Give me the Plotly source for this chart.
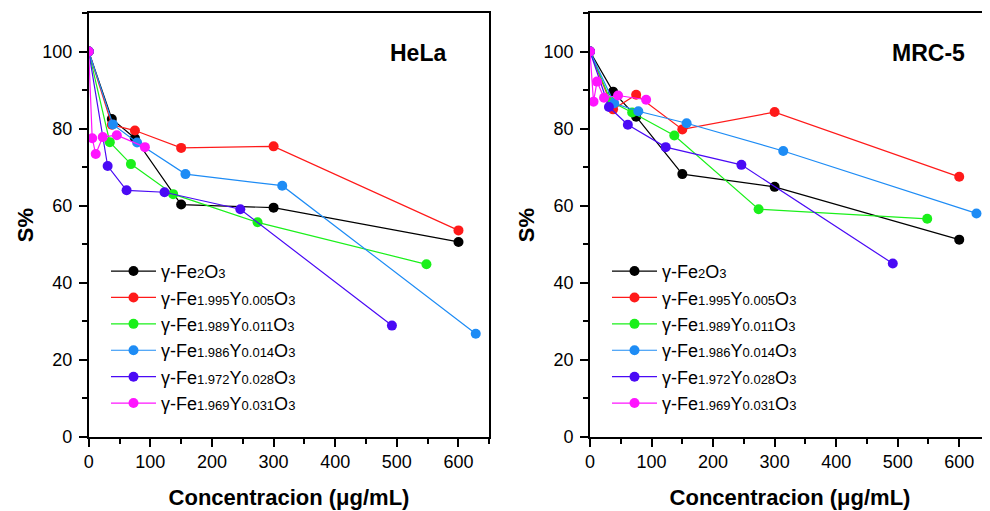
import plotly.graph_objects as go

# ---------------- data ----------------
sub_parts = [("2", None, None), ("1.995", "0.005", "3"), ("1.989", "0.011", "3"),
             ("1.986", "0.014", "3"), ("1.972", "0.028", "3"), ("1.969", "0.031", "3")]
colors = ["#000000", "#FF1A1A", "#1AF01A", "#1E8CF5", "#4A0AF5", "#FF14FF"]

# concentrations (ug/mL) per sample
conc_fe2o3 = [0, 37.5, 75, 150, 300, 600]
conc_y005 = [0, 37.5, 75, 150, 300, 600]
conc_y011 = [0, 34.25, 68.5, 137, 274, 548]
conc_y014 = [0, 39.25, 78.5, 157, 314, 628]
conc_y028 = [0, 30.75, 61.5, 123, 246, 492]
conc_y031 = [0, 5.7, 11.4, 22.8, 45.6, 91.2]

# HeLa survival (%)
hela_fe2o3 = [100, 82.5, 77.5, 60.3, 59.5, 50.6]
hela_y005 = [100, 81.0, 79.5, 75.0, 75.4, 53.6]
hela_y011 = [100, 76.5, 70.8, 63.0, 55.7, 44.8]
hela_y014 = [100, 81.1, 76.4, 68.2, 65.2, 26.8]
hela_y028 = [100, 70.3, 64.0, 63.5, 59.1, 28.9]
hela_y031 = [100, 77.5, 73.4, 77.8, 78.3, 75.2]

# MRC-5 survival (%)
mrc_fe2o3 = [100, 89.6, 83.1, 68.2, 64.9, 51.2]
mrc_y005 = [100, 85.0, 88.8, 79.8, 84.3, 67.5]
mrc_y011 = [100, 87.0, 84.2, 78.2, 59.1, 56.6]
mrc_y014 = [100, 86.6, 84.5, 81.4, 74.2, 58.0]
mrc_y028 = [100, 85.6, 81.0, 75.2, 70.6, 45.0]
mrc_y031 = [100, 87.0, 92.2, 88.0, 88.6, 87.5]

concs = [conc_fe2o3, conc_y005, conc_y011, conc_y014, conc_y028, conc_y031]
hela = [hela_fe2o3, hela_y005, hela_y011, hela_y014, hela_y028, hela_y031]
mrc = [mrc_fe2o3, mrc_y005, mrc_y011, mrc_y014, mrc_y028, mrc_y031]

panel_labels = ["HeLa", "MRC-5"]
x_ticks = [0, 100, 200, 300, 400, 500, 600]
y_ticks = [0, 20, 40, 60, 80, 100]
x_title = "Concentracion (μg/mL)"
y_title = "S%"

FONT = "Arial, Liberation Sans, sans-serif"
SUB = "<span style='font-size:13px'>%s</span>"

W, H = 990, 511
T, B = 5, 82.3
PH = H - T - B


def label(parts):
    fe, y, o = parts
    if y is None:
        return "γ-Fe" + SUB % fe + "O" + SUB % "3"
    return "γ-Fe" + SUB % fe + "Y" + SUB % y + "O" + SUB % o


fig = go.Figure()
for panel, (data, xa, ya, lg) in enumerate([(hela, "x", "y", "legend"),
                                            (mrc, "x2", "y2", "legend2")]):
    for i in range(6):
        fig.add_trace(go.Scatter(
            x=concs[i], y=data[i], mode="lines+markers",
            name=label(sub_parts[i]),
            line=dict(color=colors[i], width=1.2),
            marker=dict(color=colors[i], size=10, line=dict(width=0)),
            xaxis=xa, yaxis=ya, legend=lg,
            legendgroup="g%d_%d" % (panel, i),
        ))

axis_common = dict(
    showline=True, linecolor="black", linewidth=1.6, mirror=True,
    ticks="outside", ticklen=8, tickwidth=1.5, tickcolor="black",
    tickfont=dict(family=FONT, size=18, color="black"),
    showgrid=False, zeroline=False, automargin=False,
    minor=dict(ticks="outside", ticklen=5, tickwidth=1.5, tickcolor="black"),
)

xdoms = [[80.7 / W, 481.3 / W], [582 / W, 982 / W]]
layout = dict(
    width=W, height=H,
    margin=dict(l=0, r=0, t=T, b=B, autoexpand=False),
    paper_bgcolor="white", plot_bgcolor="white",
    font=dict(family=FONT, color="black"),
    showlegend=True,
)
for k, name in enumerate(["", "2"]):
    layout["xaxis" + name] = dict(
        axis_common, domain=xdoms[k], range=[0, 650],
        tickvals=x_ticks, anchor="y" + name,
        minor=dict(axis_common["minor"], dtick=50, tick0=0),
        title=dict(text="<b>" + x_title + "</b>",
                   font=dict(family=FONT, size=22, color="black"), standoff=18),
    )
    layout["yaxis" + name] = dict(
        axis_common, domain=[0, 1], range=[0, 110],
        tickvals=y_ticks, anchor="x" + name, ticklabelstandoff=3,
        minor=dict(axis_common["minor"], dtick=10, tick0=0),
        title=dict(text="<b>" + y_title + "</b>",
                   font=dict(family=FONT, size=22, color="black"), standoff=3),
    )

leg_common = dict(
    font=dict(family=FONT, size=18, color="black"),
    bgcolor="rgba(0,0,0,0)", borderwidth=0,
    xanchor="left", yanchor="top", itemwidth=45,
    tracegroupgap=2, traceorder="normal",
)
leg_y = 1 - (244.7 - T) / PH
layout["legend"] = dict(leg_common, x=98 / W, y=leg_y)
layout["legend2"] = dict(leg_common, x=599 / W, y=leg_y)

fig.update_layout(**layout)

for txt, cx in zip(panel_labels, [410, 920]):
    fig.add_annotation(text="<b>" + txt + "</b>", xref="paper", yref="paper",
                       x=cx / W, y=1 - (45 - T) / PH, showarrow=False,
                       xanchor="center", yanchor="middle",
                       font=dict(family=FONT, size=23, color="black"))

fig.write_html("out.html")
